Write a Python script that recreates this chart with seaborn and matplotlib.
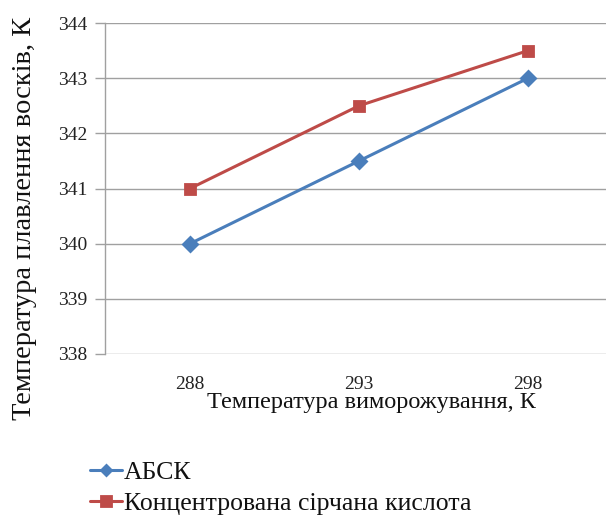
import matplotlib
matplotlib.use("Agg")
import matplotlib.pyplot as plt
import seaborn as sns
import pandas as pd

# Freezing temperature categories and melting points of the waxes
freeze_temps = ["288", "293", "298"]
absk = [340.0, 341.5, 343.0]
sulfuric = [341.0, 342.5, 343.5]
series_names = ["АБСК", "Концентрована сірчана кислота"]
y_ticks = [338, 339, 340, 341, 342, 343, 344]

df = pd.DataFrame({
    "T": freeze_temps * 2,
    "melt": absk + sulfuric,
    "series": [series_names[0]] * 3 + [series_names[1]] * 3,
})

sns.set_style("white")
serif = ["Liberation Serif", "DejaVu Serif"]
plt.rcParams["font.family"] = serif

W, H = 606, 519
fig = plt.figure(figsize=(W / 100, H / 100), dpi=100)
ax = fig.add_axes([105 / W, 1 - 354 / H, 501 / W, (354 - 23) / H])

colors = ["#4A7EBB", "#BE4B48"]
sns.pointplot(
    data=df, x="T", y="melt", hue="series", order=freeze_temps,
    hue_order=series_names, palette=colors, markers=["D", "s"],
    linestyles=["-", "-"], ax=ax, errorbar=None,
)
for line in ax.lines:
    line.set_linewidth(2.2)
    line.set_markersize(7.5)

handles, labels = ax.get_legend_handles_labels()
ax.get_legend().remove()

ax.set_xlim(-0.503, 2.461)
ax.set_ylim(338, 344)
ax.set_yticks(y_ticks)
ax.set_yticklabels([str(v) for v in y_ticks])
ax.yaxis.grid(True, color="#a0a0a0", linewidth=1.0)
ax.xaxis.grid(False)
ax.set_axisbelow(True)

for s in ["top", "right", "bottom"]:
    ax.spines[s].set_visible(False)
ax.spines["left"].set_color("#a0a0a0")
ax.spines["left"].set_linewidth(1.0)

ax.tick_params(axis="y", which="major", left=True, length=7, width=1.0,
               color="#a0a0a0", labelsize=14, pad=6)
ax.tick_params(axis="x", bottom=False, labelsize=14, pad=12)
for lab in ax.get_xticklabels() + ax.get_yticklabels():
    lab.set_family(serif)
    lab.set_color("#222222")

ax.set_xlabel("Температура виморожування, К", fontsize=17.5, color="#111111")
ax.xaxis.label.set_va("baseline")
ax.xaxis.set_label_coords((371 - 105) / 501, (354 - 408) / 331)

ax.set_ylabel("Температура плавлення восків, К", fontsize=20.5, color="#111111")
ax.yaxis.set_label_coords((37 - 105) / 501, (354 - 218) / 331)

leg = fig.legend(handles, labels, loc="upper left",
                 bbox_to_anchor=(90 / W, 1 - 461 / H), frameon=False,
                 fontsize=18.5, handlelength=1.25, handletextpad=0.08,
                 labelspacing=0.32, borderaxespad=0, borderpad=0)
for h in leg.legend_handles:
    h.set_linewidth(2.2)
leg.legend_handles[0].set_markersize(5)
leg.legend_handles[1].set_markersize(6.5)
for t in leg.get_texts():
    t.set_color("#111111")

fig.savefig("out.png", dpi=100)
